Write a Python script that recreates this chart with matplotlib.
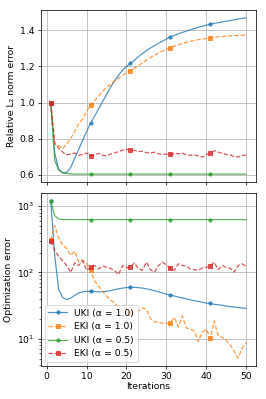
import numpy as np
import matplotlib
matplotlib.use("Agg")
import matplotlib.pyplot as plt

iters = np.arange(1, 51)

# relative L2 norm error
uki_10_rel = [1.0, 0.72, 0.63, 0.61, 0.612, 0.64, 0.69, 0.74, 0.79, 0.84,
              0.885, 0.925, 0.965, 1.005, 1.045, 1.085, 1.12, 1.15, 1.18, 1.2,
              1.217, 1.235, 1.255, 1.272, 1.288, 1.302, 1.315, 1.328, 1.34, 1.352,
              1.365, 1.373, 1.381, 1.389, 1.396, 1.403, 1.41, 1.417, 1.423, 1.429,
              1.435, 1.439, 1.443, 1.447, 1.451, 1.455, 1.459, 1.463, 1.467, 1.47]
eki_10_rel = [1.0, 0.77, 0.76, 0.745, 0.77, 0.8, 0.84, 0.88, 0.91, 0.95,
              0.986, 1.01, 1.035, 1.06, 1.085, 1.1, 1.12, 1.135, 1.15, 1.165,
              1.177, 1.19, 1.205, 1.22, 1.235, 1.25, 1.262, 1.275, 1.285, 1.295,
              1.304, 1.312, 1.32, 1.327, 1.334, 1.34, 1.344, 1.349, 1.352, 1.355,
              1.359, 1.362, 1.364, 1.366, 1.368, 1.37, 1.371, 1.372, 1.373, 1.374]
uki_05_rel = [1.0, 0.68, 0.625, 0.61, 0.606, 0.604] + [0.603] * 44
eki_05_rel = [1.0, 0.775, 0.745, 0.725, 0.71, 0.715, 0.72, 0.708, 0.712, 0.72,
              0.705, 0.71, 0.718, 0.708, 0.704, 0.715, 0.72, 0.728, 0.735, 0.74,
              0.738, 0.735, 0.728, 0.73, 0.722, 0.72, 0.725, 0.716, 0.712, 0.714,
              0.712, 0.718, 0.716, 0.72, 0.71, 0.708, 0.71, 0.705, 0.697, 0.712,
              0.72, 0.733, 0.725, 0.718, 0.712, 0.71, 0.7, 0.698, 0.706, 0.71]

# optimization error
uki_10_opt = [1200, 180, 55, 42, 39, 41, 45, 49, 51, 52,
              52, 51.5, 51, 51, 52, 53, 55, 56.5, 58, 59,
              59.5, 59.5, 59, 58, 56.5, 55, 53, 51, 49, 47,
              45.5, 44, 42.5, 41, 40, 38.5, 37.5, 36.5, 35.5, 34.5,
              34, 33, 32.5, 32, 31, 30.5, 30, 29.5, 29, 28.8]
eki_10_opt = [305, 510, 330, 260, 230, 180, 210, 145, 155, 135,
              107, 75, 62, 52, 44, 38, 35, 30, 27, 25,
              24, 27, 26, 29, 28, 20, 18, 18, 17, 17,
              17.5, 21, 15, 22, 14.5, 14, 13, 9, 12.5, 14,
              10.1, 18.5, 11, 10.5, 9.5, 8, 6.5, 5.1, 7.2, 8.7]
uki_05_opt = [1200, 720, 640, 630] + [628] * 46
eki_05_opt = [295, 215, 175, 150, 127, 100, 140, 127, 150, 107,
              120, 127, 113, 125, 120, 115, 107, 93, 127, 118,
              120, 140, 113, 108, 143, 110, 101, 127, 143, 130,
              115, 108, 135, 127, 125, 113, 110, 108, 117, 120,
              125, 143, 110, 127, 120, 115, 101, 127, 135, 123]

labels = ["UKI (α = 1.0)", "EKI (α = 1.0)", "UKI (α = 0.5)", "EKI (α = 0.5)"]
colors = ["C0", "C1", "C2", "C3"]
styles = ["-", "--", "-", "--"]
markers = ["o", "s", "o", "s"]


def main():
    # 4x6 inch figure saved at low dpi -> 266x399 px
    fig = plt.figure(figsize=(4, 6), dpi=66.5)
    ax1 = fig.add_axes([0.154, 0.544, 0.808, 0.431])
    ax2 = fig.add_axes([0.154, 0.083, 0.808, 0.433], sharex=ax1)

    rel = [uki_10_rel, eki_10_rel, uki_05_rel, eki_05_rel]
    opt = [uki_10_opt, eki_10_opt, uki_05_opt, eki_05_opt]
    for i in range(4):
        kw = dict(color=colors[i], ls=styles[i], marker=markers[i], markevery=10,
                  ms=3.5, lw=1.3, alpha=0.8, label=labels[i])
        ax1.plot(iters, rel[i], **kw)
        ax2.plot(iters, opt[i], **kw)

    ax1.set_ylabel("Relative L₂ norm error")
    ax1.grid(True)
    ax1.tick_params(labelbottom=False)

    ax2.set_yscale('log')
    ax2.set_ylabel("Optimization error")
    ax2.set_xlabel("Iterations", labelpad=1)
    ax2.set_xticks([0, 10, 20, 30, 40, 50])
    ax2.grid(True)
    ax2.legend(loc='lower left', borderaxespad=0.4)

    plt.savefig("out.png", dpi=66.5)


if __name__ == "__main__":
    main()
